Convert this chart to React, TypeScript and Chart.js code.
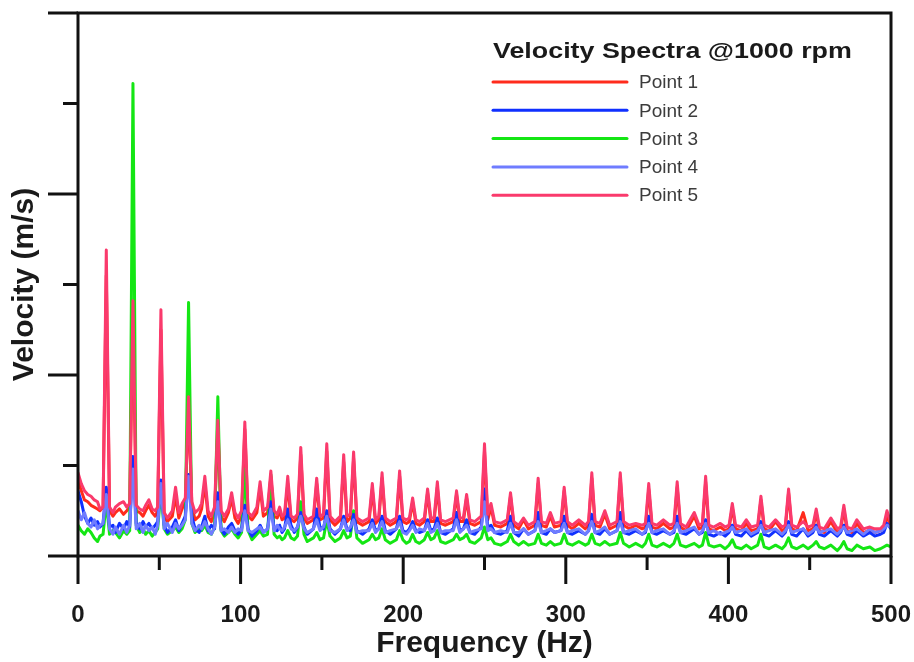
import React, { useEffect, useRef } from 'react';
import { Chart, registerables } from 'chart.js';

Chart.register(...registerables);

// Frequency grid (Hz) shared by all series
const freqHz = [
  0, 2, 4, 6, 8, 10, 12, 13.5, 15.4, 17.4,
  19.4, 21.5, 23, 25.5, 28, 30, 31.8, 33.8, 35.8, 38,
  40, 41.6, 43.6, 45.6, 47.5, 49, 51, 53, 55, 58,
  60, 62, 64, 66, 68, 70, 72, 74.5, 76, 78,
  80, 82, 84, 86, 88, 90, 92.5, 94.5, 96.5, 98.5,
  100.6, 102.6, 104.6, 107, 110, 112, 114, 116.6, 118.6, 120.6,
  122.5, 124, 125.5, 127, 129, 131, 133, 135, 137, 139,
  141, 144.8, 146.8, 148.8, 151, 153, 155, 158, 161.4, 163.4,
  165.4, 167.5, 169.5, 171.5, 175, 179, 181, 183, 185, 187,
  189, 192, 195.8, 197.8, 199.8, 202, 203.8, 205.8, 207.8, 210,
  213, 215, 217, 219, 221, 223, 226, 230.8, 232.8, 234.8,
  237, 239, 241, 244, 248, 250, 252, 254, 256.2, 260,
  264, 266, 268, 271, 274, 277, 281, 283, 285, 288,
  290.5, 293, 297, 299, 301, 304, 308, 312, 314, 316,
  318, 321, 324, 327, 331.5, 333.5, 335.5, 339, 343, 347,
  349, 351, 353, 356, 360, 364, 366.5, 368.5, 370.5, 374,
  379, 382, 384, 386, 388, 391, 395, 398, 400.4, 402.4,
  404.4, 408, 411, 414, 418, 420, 422, 425, 429, 433,
  435, 437, 439, 442, 446, 449, 452, 454, 456, 459,
  463, 467, 469, 471, 473, 476, 479, 483, 487, 490,
  493.5, 495.5, 497.5, 500,
];

const point1 = [
  0.42, 0.36, 0.31, 0.30, 0.28, 0.27, 0.26, 0.25, 0.27, 1.55,
  0.25, 0.22, 0.24, 0.26, 0.23, 0.25, 0.27, 1.35, 0.25, 0.24,
  0.22, 0.25, 0.28, 0.24, 0.22, 0.25, 1.25, 0.22, 0.19, 0.22,
  0.33, 0.21, 0.26, 0.30, 0.83, 0.28, 0.20, 0.22, 0.26, 0.40,
  0.22, 0.19, 0.24, 0.70, 0.22, 0.19, 0.24, 0.32, 0.21, 0.18,
  0.22, 0.70, 0.22, 0.20, 0.24, 0.38, 0.22, 0.24, 0.44, 0.22,
  0.21, 0.25, 0.20, 0.21, 0.40, 0.20, 0.19, 0.21, 0.56, 0.21,
  0.18, 0.20, 0.40, 0.20, 0.21, 0.58, 0.20, 0.17, 0.20, 0.52,
  0.19, 0.21, 0.54, 0.19, 0.17, 0.19, 0.37, 0.18, 0.20, 0.43,
  0.19, 0.17, 0.19, 0.44, 0.19, 0.18, 0.19, 0.30, 0.18, 0.17,
  0.19, 0.35, 0.19, 0.19, 0.38, 0.18, 0.17, 0.19, 0.34, 0.19,
  0.19, 0.32, 0.18, 0.17, 0.19, 0.58, 0.20, 0.27, 0.17, 0.16,
  0.18, 0.33, 0.17, 0.15, 0.20, 0.15, 0.17, 0.40, 0.17, 0.16,
  0.22, 0.16, 0.17, 0.36, 0.17, 0.15, 0.18, 0.15, 0.17, 0.43,
  0.17, 0.16, 0.23, 0.15, 0.17, 0.43, 0.17, 0.15, 0.17, 0.15,
  0.16, 0.37, 0.16, 0.15, 0.18, 0.15, 0.16, 0.38, 0.16, 0.14,
  0.22, 0.15, 0.16, 0.41, 0.15, 0.14, 0.16, 0.14, 0.15, 0.27,
  0.15, 0.14, 0.18, 0.14, 0.15, 0.31, 0.15, 0.14, 0.19, 0.14,
  0.15, 0.35, 0.15, 0.14, 0.24, 0.14, 0.15, 0.24, 0.14, 0.13,
  0.19, 0.13, 0.14, 0.26, 0.14, 0.13, 0.18, 0.13, 0.14, 0.13,
  0.14, 0.15, 0.22, 0.16,
];

const point2 = [
  0.36, 0.30, 0.22, 0.18, 0.21, 0.17, 0.19, 0.16, 0.18, 0.38,
  0.16, 0.17, 0.13, 0.18, 0.15, 0.19, 0.16, 0.55, 0.18, 0.15,
  0.19, 0.16, 0.18, 0.15, 0.17, 0.19, 0.42, 0.17, 0.13, 0.16,
  0.20, 0.14, 0.18, 0.22, 0.45, 0.22, 0.15, 0.13, 0.16, 0.22,
  0.14, 0.17, 0.15, 0.35, 0.15, 0.12, 0.16, 0.18, 0.14, 0.12,
  0.15, 0.28, 0.15, 0.11, 0.14, 0.17, 0.13, 0.15, 0.30, 0.15,
  0.14, 0.17, 0.13, 0.15, 0.26, 0.17, 0.13, 0.16, 0.24, 0.16,
  0.12, 0.15, 0.26, 0.16, 0.15, 0.25, 0.15, 0.12, 0.15, 0.22,
  0.15, 0.14, 0.23, 0.14, 0.12, 0.15, 0.20, 0.14, 0.15, 0.22,
  0.14, 0.12, 0.15, 0.22, 0.14, 0.13, 0.15, 0.19, 0.14, 0.13,
  0.14, 0.20, 0.14, 0.15, 0.21, 0.13, 0.12, 0.15, 0.24, 0.14,
  0.15, 0.20, 0.13, 0.12, 0.16, 0.37, 0.16, 0.17, 0.13, 0.12,
  0.14, 0.22, 0.13, 0.11, 0.15, 0.12, 0.14, 0.24, 0.13, 0.12,
  0.15, 0.13, 0.14, 0.22, 0.13, 0.12, 0.14, 0.12, 0.14, 0.23,
  0.13, 0.12, 0.15, 0.12, 0.14, 0.24, 0.13, 0.12, 0.14, 0.12,
  0.13, 0.22, 0.13, 0.12, 0.14, 0.12, 0.13, 0.22, 0.13, 0.12,
  0.15, 0.12, 0.13, 0.20, 0.12, 0.11, 0.13, 0.11, 0.13, 0.17,
  0.12, 0.11, 0.14, 0.11, 0.13, 0.19, 0.12, 0.11, 0.14, 0.11,
  0.13, 0.19, 0.12, 0.11, 0.15, 0.11, 0.13, 0.17, 0.12, 0.11,
  0.14, 0.11, 0.13, 0.17, 0.12, 0.11, 0.14, 0.11, 0.13, 0.11,
  0.12, 0.13, 0.18, 0.15,
];

const point3 = [
  0.17, 0.14, 0.12, 0.15, 0.13, 0.10, 0.08, 0.11, 0.12, 0.30,
  0.12, 0.14, 0.13, 0.10, 0.14, 0.12, 0.14, 2.61, 0.17, 0.13,
  0.15, 0.12, 0.14, 0.11, 0.13, 0.15, 0.36, 0.15, 0.12, 0.14,
  0.16, 0.13, 0.15, 0.20, 1.40, 0.18, 0.13, 0.15, 0.14, 0.17,
  0.13, 0.12, 0.16, 0.88, 0.14, 0.11, 0.13, 0.15, 0.12, 0.10,
  0.13, 0.48, 0.14, 0.09, 0.12, 0.14, 0.11, 0.12, 0.45, 0.12,
  0.10, 0.11, 0.09, 0.10, 0.14, 0.10, 0.09, 0.11, 0.30, 0.12,
  0.08, 0.10, 0.13, 0.09, 0.10, 0.20, 0.11, 0.08, 0.10, 0.14,
  0.10, 0.11, 0.25, 0.10, 0.07, 0.09, 0.12, 0.09, 0.10, 0.15,
  0.09, 0.07, 0.09, 0.14, 0.09, 0.07, 0.08, 0.12, 0.08, 0.07,
  0.09, 0.13, 0.09, 0.10, 0.14, 0.08, 0.07, 0.09, 0.12, 0.09,
  0.10, 0.12, 0.08, 0.07, 0.10, 0.16, 0.09, 0.10, 0.07, 0.06,
  0.08, 0.12, 0.08, 0.06, 0.08, 0.06, 0.07, 0.12, 0.07, 0.06,
  0.08, 0.06, 0.07, 0.12, 0.07, 0.06, 0.08, 0.06, 0.07, 0.12,
  0.07, 0.06, 0.08, 0.06, 0.07, 0.13, 0.07, 0.05, 0.07, 0.05,
  0.07, 0.12, 0.06, 0.05, 0.07, 0.05, 0.07, 0.12, 0.06, 0.05,
  0.07, 0.05, 0.06, 0.13, 0.06, 0.05, 0.06, 0.04, 0.06, 0.09,
  0.05, 0.04, 0.06, 0.04, 0.06, 0.12, 0.05, 0.04, 0.06, 0.04,
  0.06, 0.10, 0.05, 0.04, 0.06, 0.04, 0.06, 0.08, 0.05, 0.04,
  0.06, 0.03, 0.05, 0.08, 0.04, 0.03, 0.06, 0.04, 0.05, 0.03,
  0.04, 0.05, 0.06, 0.05,
];

const point4 = [
  0.25, 0.20, 0.24, 0.18, 0.16, 0.20, 0.15, 0.17, 0.18, 0.34,
  0.15, 0.12, 0.16, 0.12, 0.17, 0.13, 0.17, 0.48, 0.15, 0.18,
  0.13, 0.17, 0.14, 0.16, 0.12, 0.17, 0.40, 0.15, 0.18, 0.13,
  0.18, 0.15, 0.17, 0.20, 0.44, 0.18, 0.14, 0.17, 0.15, 0.19,
  0.15, 0.12, 0.16, 0.30, 0.14, 0.15, 0.13, 0.16, 0.13, 0.15,
  0.14, 0.25, 0.14, 0.13, 0.15, 0.16, 0.13, 0.15, 0.26, 0.14,
  0.17, 0.15, 0.14, 0.16, 0.20, 0.15, 0.14, 0.16, 0.22, 0.15,
  0.13, 0.15, 0.20, 0.14, 0.16, 0.22, 0.14, 0.13, 0.15, 0.20,
  0.14, 0.16, 0.20, 0.13, 0.14, 0.14, 0.18, 0.13, 0.15, 0.19,
  0.13, 0.14, 0.15, 0.19, 0.13, 0.12, 0.14, 0.17, 0.13, 0.15,
  0.14, 0.18, 0.13, 0.14, 0.18, 0.13, 0.14, 0.14, 0.20, 0.13,
  0.15, 0.17, 0.13, 0.14, 0.15, 0.30, 0.14, 0.15, 0.13, 0.14,
  0.13, 0.18, 0.13, 0.13, 0.15, 0.12, 0.14, 0.19, 0.13, 0.14,
  0.15, 0.13, 0.14, 0.18, 0.13, 0.14, 0.15, 0.12, 0.14, 0.19,
  0.13, 0.14, 0.16, 0.12, 0.14, 0.19, 0.13, 0.14, 0.15, 0.12,
  0.14, 0.18, 0.13, 0.14, 0.15, 0.12, 0.14, 0.18, 0.13, 0.14,
  0.16, 0.12, 0.14, 0.18, 0.13, 0.14, 0.12, 0.13, 0.14, 0.16,
  0.13, 0.14, 0.15, 0.12, 0.14, 0.17, 0.13, 0.14, 0.15, 0.12,
  0.14, 0.17, 0.13, 0.14, 0.15, 0.12, 0.14, 0.16, 0.13, 0.14,
  0.15, 0.12, 0.14, 0.16, 0.13, 0.14, 0.15, 0.12, 0.15, 0.13,
  0.14, 0.15, 0.17, 0.16,
];

const point5 = [
  0.46, 0.40, 0.36, 0.34, 0.33, 0.31, 0.30, 0.26, 0.27, 1.69,
  0.27, 0.24, 0.27, 0.29, 0.30, 0.27, 0.29, 1.41, 0.28, 0.26,
  0.25, 0.28, 0.31, 0.26, 0.25, 0.27, 1.36, 0.24, 0.21, 0.25,
  0.38, 0.24, 0.29, 0.32, 0.88, 0.30, 0.24, 0.26, 0.29, 0.44,
  0.25, 0.22, 0.27, 0.75, 0.25, 0.22, 0.26, 0.35, 0.24, 0.21,
  0.25, 0.74, 0.24, 0.22, 0.27, 0.41, 0.25, 0.27, 0.47, 0.25,
  0.23, 0.27, 0.22, 0.23, 0.44, 0.22, 0.21, 0.23, 0.60, 0.23,
  0.20, 0.22, 0.43, 0.22, 0.23, 0.62, 0.22, 0.19, 0.22, 0.56,
  0.22, 0.23, 0.575, 0.21, 0.19, 0.21, 0.40, 0.20, 0.22, 0.46,
  0.21, 0.19, 0.21, 0.47, 0.21, 0.20, 0.21, 0.32, 0.20, 0.19,
  0.21, 0.37, 0.21, 0.21, 0.41, 0.20, 0.19, 0.21, 0.36, 0.21,
  0.21, 0.34, 0.20, 0.19, 0.22, 0.62, 0.23, 0.29, 0.19, 0.18,
  0.20, 0.35, 0.19, 0.17, 0.21, 0.17, 0.19, 0.43, 0.19, 0.18,
  0.24, 0.18, 0.19, 0.38, 0.19, 0.17, 0.20, 0.17, 0.19, 0.46,
  0.19, 0.18, 0.25, 0.17, 0.19, 0.46, 0.19, 0.17, 0.18, 0.17,
  0.18, 0.40, 0.18, 0.17, 0.20, 0.17, 0.18, 0.41, 0.18, 0.16,
  0.24, 0.17, 0.18, 0.44, 0.17, 0.16, 0.18, 0.16, 0.17, 0.29,
  0.17, 0.16, 0.20, 0.16, 0.17, 0.33, 0.17, 0.16, 0.20, 0.16,
  0.17, 0.37, 0.17, 0.16, 0.19, 0.16, 0.17, 0.26, 0.16, 0.15,
  0.21, 0.15, 0.16, 0.28, 0.16, 0.15, 0.20, 0.15, 0.16, 0.15,
  0.15, 0.17, 0.25, 0.18,
];

const seriesValues = [point1, point2, point3, point4, point5];
const seriesLabels = ['Point 1', 'Point 2', 'Point 3', 'Point 4', 'Point 5'];
const seriesColors = ['#ff2b1c', '#1030ff', '#14e614', '#6f7cff', '#fa3a6c'];
// lower value = drawn on top
const seriesDrawOrder = [4, 2, 3, 1, 0];

const legendTitle = 'Velocity Spectra @1000 rpm';
const xTitle = 'Frequency (Hz)';
const yTitle = 'Velocity (m/s)';

const FONT = '"Liberation Sans", Arial, Helvetica, sans-serif';
const INK = '#1a1a1a';

const frameTicksPlugin = {
  id: 'frameTicks',
  afterDatasetsDraw(chart: any) {
    const { ctx, chartArea: a, scales } = chart;
    const xs = scales.x;
    const ys = scales.y;
    ctx.save();
    ctx.strokeStyle = '#111';
    ctx.lineWidth = 3;
    ctx.lineCap = 'butt';
    ctx.strokeRect(a.left, a.top, a.right - a.left, a.bottom - a.top);
    ctx.beginPath();
    xs.ticks.forEach((t: any) => {
      const px = xs.getPixelForValue(t.value);
      const len = t.value % 100 === 0 ? 28 : 14;
      ctx.moveTo(px, a.bottom);
      ctx.lineTo(px, a.bottom + len);
    });
    ys.ticks.forEach((t: any) => {
      const py = ys.getPixelForValue(t.value);
      const len = Math.abs(t.value - Math.round(t.value)) < 1e-6 ? 30 : 15;
      ctx.moveTo(a.left - len, py);
      ctx.lineTo(a.left, py);
    });
    ctx.stroke();
    ctx.restore();
  },
};

const legendPlugin = {
  id: 'spectraLegend',
  afterDraw(chart: any) {
    const { ctx, chartArea: a } = chart;
    const x0 = a.left + 415;
    ctx.save();
    ctx.fillStyle = INK;
    ctx.font = `bold 22px ${FONT}`;
    ctx.textBaseline = 'alphabetic';
    ctx.textAlign = 'left';
    ctx.translate(x0, a.top + 45);
    ctx.scale(1.22, 1);
    ctx.fillText(legendTitle, 0, 0);
    ctx.restore();

    ctx.save();
    chart.data.datasets.forEach((ds: any, i: number) => {
      const y = a.top + 69 + i * 28.3;
      ctx.strokeStyle = ds.borderColor;
      ctx.lineWidth = 3;
      ctx.lineCap = 'round';
      ctx.beginPath();
      ctx.moveTo(x0, y);
      ctx.lineTo(x0 + 134, y);
      ctx.stroke();
      ctx.fillStyle = '#3c3c3c';
      ctx.font = `19px ${FONT}`;
      ctx.textBaseline = 'middle';
      ctx.textAlign = 'left';
      ctx.fillText(ds.label, x0 + 146, y + 1);
    });
    ctx.restore();
  },
};

export default function App() {
  const ref = useRef<HTMLCanvasElement>(null);

  useEffect(() => {
    document.body.style.margin = '0';
    const canvas = ref.current;
    if (!canvas) return;
    const datasets = seriesValues.map((vals, i) => ({
      label: seriesLabels[i],
      data: freqHz.map((f, j) => ({ x: f, y: vals[j] })),
      borderColor: seriesColors[i],
      backgroundColor: seriesColors[i],
      borderWidth: 3,
      borderJoinStyle: 'round' as const,
      borderCapStyle: 'round' as const,
      pointRadius: 0,
      tension: 0,
      fill: false,
      order: seriesDrawOrder[i],
    }));

    const chart = new Chart(canvas, {
      type: 'line',
      data: { datasets },
      options: {
        responsive: false,
        animation: false,
        devicePixelRatio: 1,
        layout: { padding: { left: 0, top: 13, right: 23, bottom: 0 } },
        plugins: {
          legend: { display: false },
          tooltip: { enabled: false },
          title: { display: false },
        },
        scales: {
          x: {
            type: 'linear',
            min: 0,
            max: 500,
            afterFit: (s: any) => {
              s.height = 106;
            },
            grid: {
              display: true,
              drawOnChartArea: false,
              drawTicks: true,
              tickLength: 45,
              color: 'rgba(0,0,0,0)',
              tickColor: 'rgba(0,0,0,0)',
            },
            border: { display: false },
            ticks: {
              stepSize: 50,
              autoSkip: false,
              maxRotation: 0,
              padding: 0,
              color: INK,
              font: { family: FONT, size: 24, weight: 'bold' },
              callback: (v: any) => (Number(v) % 100 === 0 ? String(v) : ''),
            },
            title: {
              display: true,
              text: xTitle,
              color: INK,
              font: { family: FONT, size: 30, weight: 'bold' },
              padding: { top: 0, bottom: 0 },
            },
          },
          y: {
            type: 'linear',
            min: 0,
            max: 3,
            afterFit: (s: any) => {
              s.width = 78;
            },
            grid: { display: false, drawTicks: false },
            border: { display: false },
            ticks: { stepSize: 0.5, display: false },
            title: {
              display: true,
              text: yTitle,
              color: INK,
              font: { family: FONT, size: 30, weight: 'bold' },
              padding: { top: 7, bottom: 0 },
            },
          },
        },
      } as any,
      plugins: [frameTicksPlugin, legendPlugin],
    });
    return () => chart.destroy();
  }, []);

  return (
    <canvas
      ref={ref}
      width={914}
      height={662}
      style={{ display: 'block', width: 914, height: 662 }}
    />
  );
}
